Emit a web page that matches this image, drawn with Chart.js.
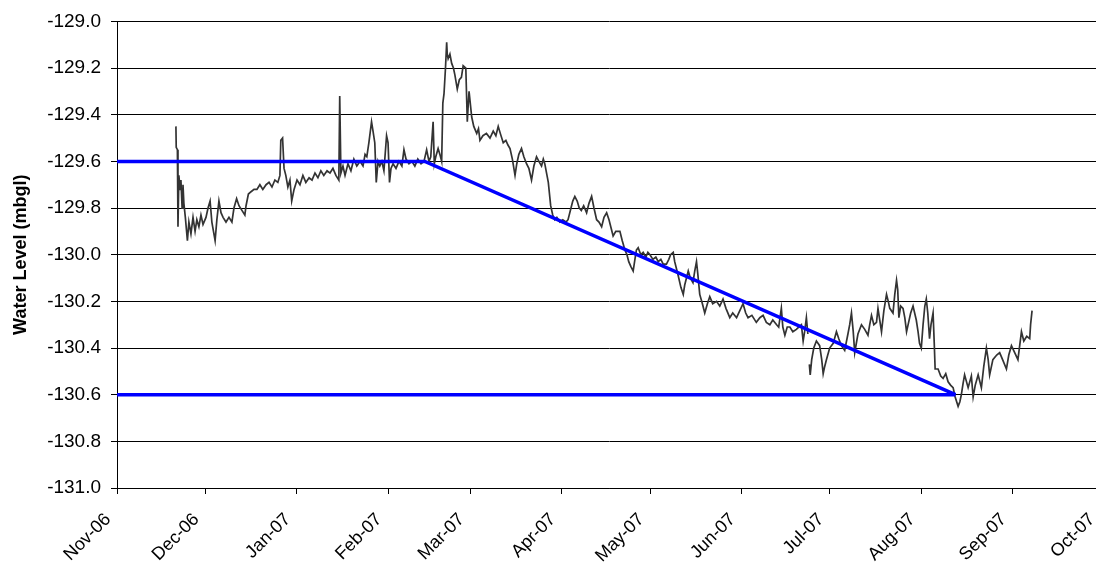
<!DOCTYPE html>
<html>
<head>
<meta charset="utf-8">
<title>Water Level</title>
<script src="https://cdn.jsdelivr.net/npm/chart.js@4.4.1/dist/chart.umd.min.js"></script>
<style>
    html, body { margin: 0; padding: 0; background: #fff; overflow: hidden; }
    #wrap { position: relative; width: 1110px; height: 567px; }
</style>
</head>
<body>
<div id="wrap"><canvas id="levelChart"></canvas></div>
<script>
// x values are days counted from 1 Nov 2006
const monthDays = [0, 30, 61, 92, 120, 151, 181, 212, 242, 273, 304, 334];
const monthLabels = ['Nov-06', 'Dec-06', 'Jan-07', 'Feb-07', 'Mar-07', 'Apr-07',
    'May-07', 'Jun-07', 'Jul-07', 'Aug-07', 'Sep-07', 'Oct-07'];

// logger record: [day, water level mbgl], null marks the data gap
const levelReadings = [
    [20.0, -129.45], [20.1, -129.54], [20.5, -129.55], [20.7, -129.88], [21.0, -129.66],
    [21.4, -129.72], [21.7, -129.68], [22.1, -129.80], [22.4, -129.70], [22.7, -129.78],
    [23.2, -129.84], [23.9, -129.94], [24.4, -129.86], [25.1, -129.91], [25.8, -129.84],
    [26.5, -129.90], [27.1, -129.85], [27.8, -129.88], [28.5, -129.83], [29.2, -129.87],
    [30.2, -129.84], [30.9, -129.80], [31.6, -129.77], [32.2, -129.86], [33.3, -129.94],
    [33.9, -129.85], [34.6, -129.77], [35.3, -129.82], [36.0, -129.84], [37.0, -129.86],
    [38.0, -129.84], [39.0, -129.86], [39.7, -129.80], [40.6, -129.76], [41.4, -129.79],
    [42.4, -129.81], [43.4, -129.83], [43.8, -129.79], [44.6, -129.74], [45.5, -129.73],
    [46.5, -129.72], [47.5, -129.72], [48.5, -129.70], [49.5, -129.72], [50.6, -129.70],
    [51.6, -129.69], [52.6, -129.71], [53.6, -129.68], [54.6, -129.69], [55.3, -129.66],
    [55.6, -129.51], [56.2, -129.50], [56.7, -129.63], [57.3, -129.66], [58.0, -129.71],
    [58.7, -129.68], [59.3, -129.77], [60.1, -129.72], [61.1, -129.68], [62.1, -129.70],
    [63.1, -129.66], [64.1, -129.69], [65.2, -129.67], [66.2, -129.68], [67.2, -129.65],
    [68.2, -129.67], [69.2, -129.64], [70.2, -129.66], [71.3, -129.64], [72.3, -129.65],
    [73.3, -129.63], [74.3, -129.66], [75.3, -129.68], [75.6, -129.32], [76.0, -129.65],
    [76.7, -129.62], [77.4, -129.66], [78.4, -129.61], [79.4, -129.64], [80.4, -129.59],
    [81.4, -129.62], [82.5, -129.60], [83.5, -129.62], [84.2, -129.57], [84.8, -129.58],
    [85.5, -129.52], [86.4, -129.43], [86.9, -129.47], [87.5, -129.52], [88.0, -129.69],
    [88.6, -129.60], [89.2, -129.62], [89.9, -129.60], [90.6, -129.64], [91.5, -129.49],
    [92.0, -129.52], [92.5, -129.69], [93.0, -129.63], [93.7, -129.61], [94.7, -129.63],
    [95.7, -129.60], [96.7, -129.62], [97.4, -129.55], [98.1, -129.59], [99.1, -129.61],
    [100.1, -129.60], [101.1, -129.62], [102.1, -129.59], [103.2, -129.61], [104.2, -129.60],
    [105.1, -129.55], [105.9, -129.60], [106.5, -129.58], [107.3, -129.43], [107.7, -129.61],
    [108.2, -129.58], [109.0, -129.545], [109.6, -129.57], [110.2, -129.60], [110.6, -129.35],
    [111.0, -129.31], [111.5, -129.20], [111.9, -129.09], [112.1, -129.14], [112.4, -129.16],
    [113.0, -129.14], [113.6, -129.18], [114.2, -129.20], [114.7, -129.23], [115.5, -129.29],
    [116.2, -129.25], [116.9, -129.24], [117.5, -129.19], [118.4, -129.20], [118.9, -129.43],
    [119.3, -129.34], [119.5, -129.30], [120.4, -129.41], [121.1, -129.45], [122.1, -129.48],
    [122.7, -129.46], [123.2, -129.51], [124.2, -129.49], [125.4, -129.48], [126.6, -129.50],
    [127.7, -129.47], [128.6, -129.49], [129.4, -129.45], [130.1, -129.48], [131.1, -129.52],
    [132.0, -129.51], [132.7, -129.53], [133.4, -129.545], [134.2, -129.59], [135.1, -129.66],
    [135.7, -129.61], [136.4, -129.57], [137.3, -129.545], [138.1, -129.58], [139.0, -129.61],
    [139.8, -129.63], [140.7, -129.68], [141.5, -129.62], [142.4, -129.58], [143.2, -129.60],
    [144.1, -129.62], [144.7, -129.59], [145.2, -129.61], [146.4, -129.69], [147.2, -129.79],
    [147.9, -129.83], [148.6, -129.85], [149.3, -129.84], [150.3, -129.86], [151.3, -129.85],
    [152.4, -129.86], [153.1, -129.85], [154.1, -129.80], [154.7, -129.77], [155.4, -129.75],
    [156.2, -129.77], [156.9, -129.80], [157.6, -129.81], [158.4, -129.79], [159.4, -129.82],
    [160.2, -129.78], [161.1, -129.75], [161.9, -129.80], [162.8, -129.85], [163.6, -129.86],
    [164.5, -129.88], [165.3, -129.84], [166.2, -129.82], [167.0, -129.85], [167.6, -129.88],
    [168.4, -129.92], [169.3, -129.90], [170.7, -129.90], [171.5, -129.94], [172.4, -129.98],
    [173.1, -130.00], [173.7, -130.03], [174.4, -130.05], [175.2, -130.07], [175.8, -130.02],
    [176.3, -129.98], [176.9, -129.97], [177.8, -130.00], [178.6, -129.99], [179.5, -130.01],
    [180.2, -129.99], [180.9, -130.00], [181.9, -130.02], [182.9, -130.01], [183.7, -130.03],
    [184.6, -130.02], [185.4, -130.04], [186.5, -130.04], [187.3, -130.02], [187.9, -130.00],
    [188.8, -129.99], [189.3, -130.03], [190.5, -130.09], [191.4, -130.14], [192.2, -130.17],
    [192.7, -130.13], [193.9, -130.07], [194.6, -130.10], [195.5, -130.12], [196.1, -130.07],
    [196.7, -130.03], [197.2, -130.09], [197.8, -130.17], [198.7, -130.21], [199.5, -130.25],
    [200.4, -130.21], [201.2, -130.18], [202.2, -130.21], [203.5, -130.20], [204.6, -130.22],
    [205.7, -130.19], [206.7, -130.23], [208.0, -130.27], [209.0, -130.25], [210.3, -130.27],
    [211.4, -130.24], [212.5, -130.21], [213.4, -130.25], [214.2, -130.27], [215.5, -130.26],
    [217.0, -130.29], [218.2, -130.27], [219.3, -130.26], [220.4, -130.29], [221.6, -130.30],
    [222.6, -130.28], [223.9, -130.30], [224.6, -130.31], [225.5, -130.23], [226.0, -130.31],
    [226.7, -130.345], [227.5, -130.31], [228.4, -130.31], [229.4, -130.33], [230.6, -130.32],
    [231.4, -130.31], [232.3, -130.30], [232.9, -130.37], [233.4, -130.33], [234.0, -130.27],
    [234.5, -130.34], [234.75, null],
    [235.0, -130.47], [235.3, -130.515], [235.8, -130.45], [236.5, -130.40], [237.4, -130.37],
    [238.5, -130.39], [239.2, -130.45], [239.7, -130.51], [240.2, -130.48], [240.8, -130.45],
    [241.9, -130.40], [243.1, -130.38], [244.2, -130.33], [245.0, -130.36], [245.9, -130.39],
    [247.0, -130.41], [248.1, -130.34], [248.7, -130.30], [249.3, -130.25], [249.9, -130.33],
    [250.4, -130.42], [251.5, -130.34], [252.7, -130.30], [253.8, -130.32], [254.9, -130.345],
    [255.5, -130.30], [256.1, -130.26], [256.9, -130.30], [257.8, -130.29], [258.3, -130.23],
    [258.9, -130.28], [259.5, -130.33], [260.3, -130.24], [261.2, -130.17], [261.8, -130.20],
    [262.3, -130.23], [263.4, -130.25], [264.0, -130.17], [264.6, -130.11], [265.0, -130.15],
    [265.4, -130.27], [266.0, -130.22], [266.8, -130.23], [267.4, -130.27], [268.0, -130.33],
    [268.7, -130.29], [269.4, -130.25], [270.2, -130.22], [271.3, -130.28], [271.9, -130.33],
    [272.4, -130.38], [273.0, -130.40], [273.6, -130.30], [274.2, -130.22], [274.7, -130.19],
    [275.2, -130.25], [275.8, -130.36], [276.3, -130.30], [277.0, -130.25], [277.4, -130.38],
    [277.7, -130.49], [278.7, -130.49], [279.6, -130.52], [280.4, -130.53], [281.3, -130.51],
    [282.1, -130.545], [283.0, -130.56], [283.8, -130.57], [284.5, -130.61], [285.5, -130.65],
    [286.1, -130.63], [286.6, -130.60], [287.2, -130.55], [287.7, -130.515], [288.9, -130.57],
    [290.0, -130.52], [290.6, -130.61], [291.3, -130.56], [292.3, -130.515], [293.4, -130.57],
    [294.2, -130.48], [295.1, -130.40], [295.7, -130.45], [296.2, -130.515], [297.3, -130.45],
    [298.6, -130.43], [299.6, -130.42], [300.6, -130.45], [301.9, -130.49], [302.7, -130.43],
    [303.6, -130.39], [304.7, -130.42], [305.8, -130.45], [307.0, -130.33], [307.8, -130.37],
    [308.8, -130.35], [309.8, -130.36], [310.1, -130.30], [310.6, -130.24]
];

// trend lines: steady level, decline, and the lower reference level
const upperTrend = [[0, -129.6], [104.5, -129.6], [284.6, -130.6]];
const lowerTrend = [[0, -130.6], [284.6, -130.6]];

const fontFamily = "'Liberation Sans', Arial, sans-serif";
const toPoints = rows => rows.map(r => ({ x: r[0], y: r[1] }));
const isMajor = v => Math.round(v * 10) % 2 === 0;

new Chart(document.getElementById('levelChart'), {
    type: 'line',
    data: {
        datasets: [
            {
                data: toPoints(upperTrend),
                borderColor: '#0000ff',
                borderWidth: 3.5,
                pointRadius: 0,
                order: 0
            },
            {
                data: toPoints(lowerTrend),
                borderColor: '#0000ff',
                borderWidth: 3.5,
                pointRadius: 0,
                order: 0
            },
            {
                data: toPoints(levelReadings),
                borderColor: '#333333',
                borderWidth: 1.7,
                pointRadius: 0,
                tension: 0,
                spanGaps: false,
                order: 1
            }
        ]
    },
    options: {
        responsive: true,
        maintainAspectRatio: false,
        animation: false,
        events: [],
        layout: { padding: { top: 17, right: 9, bottom: 0, left: 0 } },
        plugins: {
            legend: { display: false },
            tooltip: { enabled: false }
        },
        scales: {
            x: {
                type: 'linear',
                min: monthDays[0],
                max: monthDays[monthDays.length - 1],
                afterBuildTicks: scale => {
                    scale.ticks = monthDays.map(v => ({ value: v }));
                },
                // fixed axis band; the last month runs to the page edge
                afterFit: scale => {
                    scale.height = 79;
                    scale.paddingLeft = 0;
                    scale.paddingRight = 0;
                },
                grid: { drawOnChartArea: false, color: '#000', tickLength: 6 },
                border: { color: '#000', width: 1 },
                ticks: {
                    autoSkip: false,
                    minRotation: 45,
                    maxRotation: 45,
                    padding: 15,
                    labelOffset: -9,
                    color: '#000',
                    font: { family: fontFamily, size: 18 },
                    callback: (value, index) => monthLabels[index]
                }
            },
            y: {
                min: -131,
                max: -129,
                afterFit: scale => { scale.width = 117; },
                grid: {
                    color: ctx => (ctx.tick && isMajor(ctx.tick.value)) ? '#000' : 'rgba(0,0,0,0)',
                    tickColor: '#000',
                    tickLength: 6
                },
                border: { color: '#000', width: 1 },
                ticks: {
                    stepSize: 0.1,
                    padding: 10,
                    color: '#000',
                    font: { family: fontFamily, size: 19 },
                    callback: value => isMajor(value) ? value.toFixed(1) : ''
                },
                title: {
                    display: true,
                    text: 'Water Level (mbgl)',
                    color: '#000',
                    padding: { top: 10, bottom: 0 },
                    font: { family: fontFamily, size: 18, weight: 'bold' }
                }
            }
        }
    }
});
</script>
</body>
</html>
